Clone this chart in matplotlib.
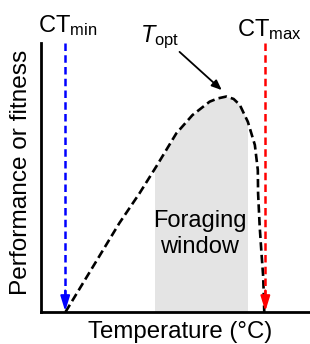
import matplotlib
matplotlib.use("Agg")
import matplotlib.pyplot as plt
from matplotlib.patches import Rectangle

plt.rcParams['font.family'] = ['Liberation Sans', 'DejaVu Sans']
plt.rcParams['mathtext.fontset'] = 'custom'
plt.rcParams['mathtext.rm'] = 'Liberation Sans'
plt.rcParams['mathtext.it'] = 'Liberation Sans:italic'

# Thermal performance curve (arbitrary units)
temperature = [9.1, 14.8, 21.6, 29.1, 36.6, 42.8, 50.3, 56.3, 62.7, 65.7, 68.9, 71.6,
               73.9, 76.9, 79.5, 80.6, 80.7, 81.3, 81.9, 82.6, 83.0]
performance = [0.0, 9.4, 20.6, 33.0, 44.1, 54.0, 66.4, 73.2, 78.2, 79.4, 80.1, 79.2,
               77.0, 70.7, 62.1, 52.8, 44.2, 31.7, 22.8, 13.1, 0.0]
ct_min = 9.0
ct_max = 83.4
t_opt = (67.2, 82.5)
window = (42.2, 76.4)
y_top = 100

fig = plt.figure(figsize=(3.10, 3.44), dpi=100)
ax = fig.add_axes([41/310, 32/344, 269/310, 269/344])
ax.set_xlim(0, 100)
ax.set_ylim(0, 100)
for s in ['top', 'right']:
    ax.spines[s].set_visible(False)
for s in ['left', 'bottom']:
    ax.spines[s].set_linewidth(2.0)
ax.set_xticks([])
ax.set_yticks([])

# foraging window shading under curve
fill = ax.fill_between(temperature, performance, 0, color='#e4e4e4', lw=0, zorder=1)
clip = Rectangle((window[0], 0), window[1] - window[0], 100, transform=ax.transData)
fill.set_clip_path(clip)

ax.plot(temperature, performance, color='black', lw=1.9, ls=(0, (3.2, 1.6)),
        zorder=3, dash_capstyle='butt', dash_joinstyle='round')

for xv, col in [(ct_min, '#0000ff'), (ct_max, '#ff0000')]:
    ax.plot([xv, xv], [y_top, 6], color=col, lw=1.8, ls=(0, (3, 1.7)), zorder=4,
            clip_on=False)
    ax.annotate('', xy=(xv, 0.3), xytext=(xv, 8),
                arrowprops=dict(arrowstyle='-|>,head_length=0.9,head_width=0.28',
                                color=col, lw=1.5, shrinkA=0, shrinkB=0),
                zorder=5, annotation_clip=False)

ax.annotate('', xy=t_opt, xytext=(51.5, 96.7),
            arrowprops=dict(arrowstyle='-|>,head_length=0.6,head_width=0.25',
                            color='black', lw=1.3, shrinkA=0, shrinkB=0),
            annotation_clip=False)

fig.text(68/310, 1 - 32/344, r'$\mathrm{CT_{min}}$', ha='center', va='baseline', fontsize=17)
fig.text(269/310, 1 - 36/344, r'$\mathrm{CT_{max}}$', ha='center', va='baseline', fontsize=17)
fig.text(160/310, 1 - 42/344, r'$\mathit{T}_{\mathrm{opt}}$', ha='center', va='baseline', fontsize=17)

ax.text(59.0, 29.0, 'Foraging\nwindow', ha='center', va='center', fontsize=17,
        linespacing=1.25, zorder=6)

ax.set_xlabel('Temperature (°C)', fontsize=17.3)
ax.xaxis.set_label_coords(0.517, -0.035, transform=ax.transAxes)
ax.xaxis.label.set_va('top')
ax.set_ylabel('Performance or fitness', fontsize=17.6)
ax.yaxis.set_label_coords(-0.075, 0.52, transform=ax.transAxes)
ax.yaxis.label.set_va('center')

fig.savefig('out.png', dpi=100)
